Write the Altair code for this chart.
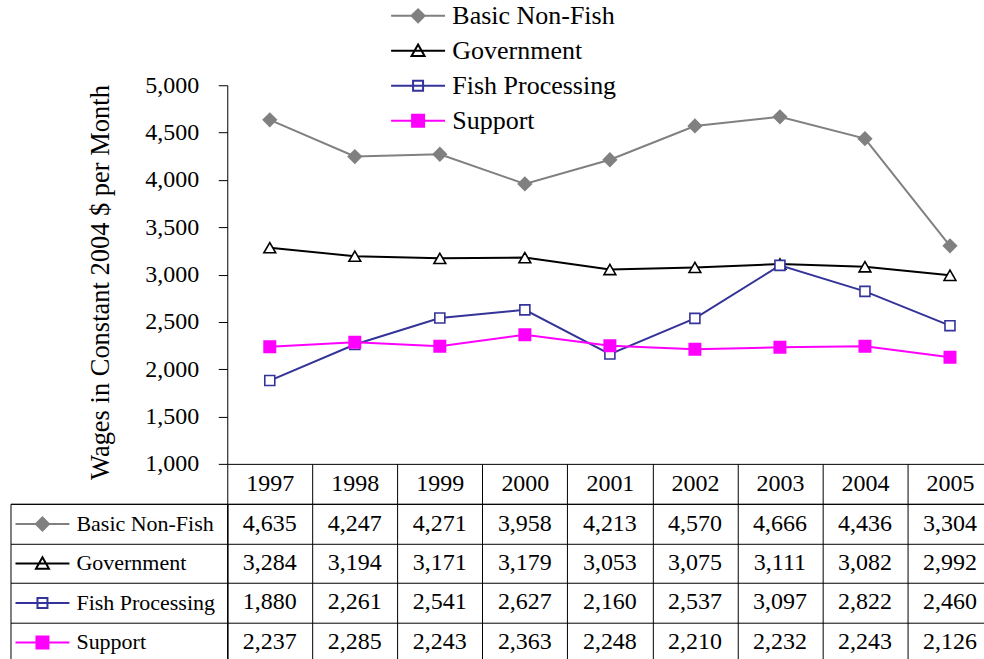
import altair as alt
import pandas as pd

# ---- data -------------------------------------------------------------
years = [1997, 1998, 1999, 2000, 2001, 2002, 2003, 2004, 2005]
series_names = ["Basic Non-Fish", "Government", "Fish Processing", "Support"]
basic_non_fish = [4635, 4247, 4271, 3958, 4213, 4570, 4666, 4436, 3304]
government = [3284, 3194, 3171, 3179, 3053, 3075, 3111, 3082, 2992]
fish_processing = [1880, 2261, 2541, 2627, 2160, 2537, 3097, 2822, 2460]
support = [2237, 2285, 2243, 2363, 2248, 2210, 2232, 2243, 2126]
y_ticks = [1000, 1500, 2000, 2500, 3000, 3500, 4000, 4500, 5000]

# ---- styles -----------------------------------------------------------
FONT = "Liberation Serif"
line_colors = ["#808080", "#000000", "#333399", "#FF00FF"]
marker_fills = ["#808080", "#FFFFFF", "#FFFFFF", "#FF00FF"]
marker_shapes = ["diamond", "triangle-up", "square", "square"]
marker_sizes = [170, 140, 100, 130]

# legend keys: a short line segment with the series marker on it
key_paths = [
    "M-5.4,0H5.4M-1.3,0L0,-1.3L1.3,0L0,1.3Z",
    "M-5.4,0H5.4M0,-1.25L1.3,1.05L-1.3,1.05Z",
    "M-5.4,0H5.4M-1,-1H1V1H-1Z",
    "M-5.4,0H5.4M-1.2,-1.2H1.2V1.2H-1.2Z",
]

values_by_series = [basic_non_fish, government, fish_processing, support]
df = pd.DataFrame(
    [
        {"year": y, "series": name, "value": v}
        for name, vals in zip(series_names, values_by_series)
        for y, v in zip(years, vals)
    ]
)
series_df = pd.DataFrame({"series": series_names})


def key_encodings(legend):
    return dict(
        shape=alt.Shape("series:N", scale=alt.Scale(domain=series_names, range=key_paths), legend=legend),
        stroke=alt.Stroke("series:N", scale=alt.Scale(domain=series_names, range=line_colors), legend=legend),
        fill=alt.Fill("series:N", scale=alt.Scale(domain=series_names, range=marker_fills), legend=legend),
    )


def key_legend(**kw):
    return alt.Legend(
        title=None,
        orient="none",
        direction="vertical",
        labelFont=FONT,
        labelColor="black",
        labelLimit=400,
        symbolSize=100,
        symbolStrokeWidth=2,
        symbolOpacity=1,
        padding=0,
        **kw,
    )


band = alt.Scale(type="band", paddingInner=0, paddingOuter=0)

# ---- line chart -------------------------------------------------------
x_top = alt.X(
    "year:O",
    scale=band,
    axis=alt.Axis(
        title=None,
        labelAngle=0,
        labelFont=FONT,
        labelFontSize=24,
        labelColor="black",
        labelBaseline="middle",
        labelPadding=-20,
        tickSize=40,
        tickBand="extent",
        tickColor="black",
        domainColor="black",
        grid=False,
    ),
)
y_top = alt.Y(
    "value:Q",
    scale=alt.Scale(domain=[1000, 5000], nice=False, zero=False),
    axis=alt.Axis(
        title="Wages in Constant 2004 $ per Month",
        titleFont=FONT,
        titleFontSize=26.5,
        titleFontWeight="normal",
        titleColor="black",
        titlePadding=30,
        titleY=197,
        values=y_ticks,
        format=",.0f",
        labelFont=FONT,
        labelFontSize=24,
        labelColor="black",
        labelPadding=19.5,
        tickSize=9,
        tickColor="black",
        domainColor="black",
        grid=False,
    ),
)

layers = []
for name, color, fill, shape, size in zip(series_names, line_colors, marker_fills, marker_shapes, marker_sizes):
    base = alt.Chart(df).transform_filter(alt.datum.series == name).encode(x=x_top, y=y_top)
    layers.append(base.mark_line(color=color, strokeWidth=2))
    layers.append(
        base.mark_point(
            shape=shape, size=size, filled=True, fill=fill, stroke=color, strokeWidth=1.6, opacity=1
        )
    )

top_legend = key_legend(
    legendX=164, legendY=-82.5, labelFontSize=26, symbolOffset=14, labelOffset=21.3, rowPadding=9
)
key_layer = alt.Chart(df).mark_point(opacity=0).encode(x=x_top, y=y_top, **key_encodings(top_legend))

top = alt.layer(*layers, key_layer).properties(width=766, height=379)

# ---- data table below -------------------------------------------------
grid_axis = dict(
    title=None,
    labels=False,
    ticks=False,
    domain=False,
    grid=True,
    gridColor="black",
    gridOpacity=1,
    gridWidth=1,
    tickBand="extent",
)
cell_view = alt.ViewBackground(stroke="black", strokeWidth=1)
row_scale = alt.Scale(type="band", domain=series_names, paddingInner=0, paddingOuter=0)

value_panel = (
    alt.Chart(df)
    .mark_text(font=FONT, fontSize=24, color="black", baseline="middle", align="center")
    .encode(
        x=alt.X("year:O", scale=band, axis=alt.Axis(**grid_axis)),
        y=alt.Y("series:N", scale=row_scale, axis=alt.Axis(**grid_axis)),
        text=alt.Text("value:Q", format=",.0f"),
    )
    .properties(width=766, height=158, view=cell_view)
)

bottom_legend = key_legend(
    legendX=5, legendY=9.2, labelFontSize=22, symbolOffset=16, labelOffset=23, rowPadding=17.5
)
label_panel = (
    alt.Chart(series_df)
    .mark_point(opacity=0)
    .encode(
        y=alt.Y("series:N", scale=row_scale, axis=alt.Axis(**grid_axis)),
        **key_encodings(bottom_legend),
    )
    .properties(width=217, height=158, view=cell_view)
)

spacer = alt.Chart(series_df).mark_point(opacity=0).properties(width=217, height=379)

# the table runs past the right and bottom edges of the canvas, so the
# padding trims those sides
chart = (
    alt.ConcatChart(
        concat=[spacer, top, label_panel, value_panel],
        columns=2,
        spacing={"row": 40, "column": 0},
        bounds="flush",
        padding={"left": 9.5, "top": 2, "right": -9.5, "bottom": -3},
    )
    .resolve_scale(shape="independent", fill="independent", stroke="independent")
    .resolve_legend(shape="independent", fill="independent", stroke="independent")
    .configure_view(stroke="transparent")
)

chart.save("out.html", embed_options={"renderer": "svg", "actions": False})
